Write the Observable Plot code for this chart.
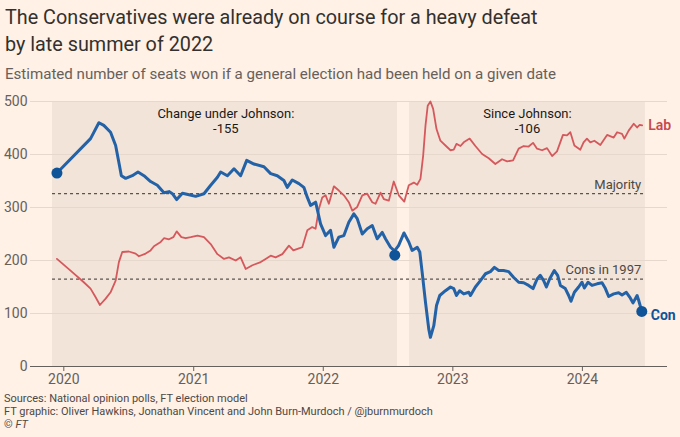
<!DOCTYPE html>
<html><head><meta charset="utf-8">
<script src="https://cdn.jsdelivr.net/npm/d3@7"></script>
<script src="https://cdn.jsdelivr.net/npm/@observablehq/plot@0.6"></script>
<style>
html,body{margin:0;padding:0;background:#FFF1E5;}
body{width:680px;height:437px;position:relative;overflow:hidden;font-family:Roboto,"Noto Sans",sans-serif;}
#title{position:absolute;left:5px;top:4px;font-size:19.8px;line-height:27px;color:#33302e;}
#sub{position:absolute;left:5px;top:64px;font-size:15.1px;line-height:20px;color:#66605c;}
#chart{position:absolute;left:0;top:88px;}
#foot{position:absolute;left:4px;top:392px;font-size:11px;line-height:13px;color:#4d4845;}
</style></head><body>
<div id="title">The Conservatives were already on course for a heavy defeat<br>by late summer of 2022</div>
<div id="sub">Estimated number of seats won if a general election had been held on a given date</div>
<div id="chart"></div>
<div id="foot">Sources: National opinion polls, FT election model<br>FT graphic: Oliver Hawkins, Jonathan Vincent and John Burn-Murdoch / @jburnmurdoch<br>© <i>FT</i></div>
<script>
// decimal-year dates and seat estimates
const conT = [2019.947,2020.206,2020.270,2020.308,2020.360,2020.399,2020.424,2020.443,2020.476,2020.527,2020.571,2020.617,2020.668,2020.720,2020.771,2020.810,2020.836,2020.869,2020.913,2020.964,2021.015,2021.079,2021.131,2021.183,2021.208,2021.260,2021.311,2021.362,2021.409,2021.465,2021.542,2021.594,2021.645,2021.696,2021.722,2021.761,2021.812,2021.850,2021.877,2021.902,2021.941,2021.979,2022.018,2022.056,2022.082,2022.120,2022.159,2022.197,2022.236,2022.262,2022.301,2022.339,2022.378,2022.416,2022.455,2022.480,2022.519,2022.550,2022.581,2022.623,2022.660,2022.686,2022.725,2022.745,2022.763,2022.789,2022.814,2022.827,2022.853,2022.874,2022.899,2022.943,2022.982,2023.007,2023.028,2023.053,2023.084,2023.123,2023.136,2023.174,2023.213,2023.252,2023.290,2023.321,2023.354,2023.392,2023.431,2023.470,2023.508,2023.547,2023.585,2023.619,2023.650,2023.675,2023.701,2023.722,2023.747,2023.783,2023.809,2023.830,2023.868,2023.894,2023.912,2023.938,2023.971,2023.997,2024.015,2024.043,2024.074,2024.113,2024.151,2024.177,2024.202,2024.241,2024.279,2024.305,2024.338,2024.364,2024.390,2024.421,2024.433,2024.457];
const conV = [365,430,460,455,442,417,385,360,355,360,367,360,349,342,328,330,326,315,327,324,321,326,342,357,367,360,373,360,389,382,377,364,360,351,338,352,345,338,319,304,310,269,247,257,225,244,247,272,288,279,250,260,266,241,253,241,225,218,228,252,235,219,225,216,178,121,71,55,77,115,134,143,150,147,134,143,137,140,134,150,162,175,179,187,181,181,179,168,159,158,153,147,165,172,162,150,165,181,172,153,147,134,123,140,150,159,148,159,153,156,158,147,132,137,139,135,140,131,120,134,125,104];

const labT = [2019.947,2020.052,2020.154,2020.206,2020.244,2020.278,2020.322,2020.360,2020.399,2020.424,2020.450,2020.501,2020.553,2020.578,2020.630,2020.668,2020.694,2020.746,2020.771,2020.810,2020.843,2020.869,2020.905,2020.938,2020.977,2021.029,2021.079,2021.131,2021.183,2021.234,2021.272,2021.324,2021.362,2021.401,2021.453,2021.517,2021.555,2021.594,2021.632,2021.684,2021.735,2021.769,2021.812,2021.838,2021.877,2021.915,2021.941,2021.966,2021.992,2022.018,2022.043,2022.082,2022.120,2022.159,2022.197,2022.224,2022.262,2022.301,2022.339,2022.378,2022.403,2022.442,2022.467,2022.506,2022.544,2022.583,2022.625,2022.660,2022.699,2022.725,2022.750,2022.771,2022.789,2022.806,2022.827,2022.848,2022.874,2022.904,2022.943,2022.982,2023.007,2023.028,2023.059,2023.084,2023.130,2023.174,2023.226,2023.277,2023.328,2023.380,2023.419,2023.465,2023.508,2023.547,2023.585,2023.619,2023.650,2023.689,2023.727,2023.766,2023.804,2023.850,2023.881,2023.907,2023.938,2023.984,2024.009,2024.035,2024.061,2024.092,2024.138,2024.190,2024.241,2024.267,2024.305,2024.323,2024.356,2024.395,2024.421,2024.441,2024.460];
const labV = [203,181,159,147,131,116,128,140,162,197,216,217,213,208,213,219,227,235,242,240,244,255,244,242,244,247,244,231,212,203,206,200,206,184,191,197,203,209,206,212,228,219,223,225,257,263,260,297,319,323,307,340,332,323,310,294,301,323,326,310,307,328,316,313,349,323,311,342,347,343,354,398,455,492,500,486,448,426,417,408,409,420,416,423,430,416,401,393,382,391,387,389,411,416,415,422,411,408,412,397,406,437,436,442,417,409,423,430,423,426,418,437,432,442,439,430,445,458,451,456,455];

const dotT = [2019.947, 2022.552, 2024.457];
const dotV = [365, 210, 104];

const periodStart = [2019.913, 2022.666];
const periodEnd = [2022.573, 2024.485];
const periodNote = ["Change under Johnson:\n-155", "Since Johnson:\n-106"];
const periodNoteT = [2021.248, 2023.576];

const refV = [326, 165];
const refLabel = ["Majority", "Cons in 1997"];

const yTicks = [0, 100, 200, 300, 400, 500];
const yearTicks = [2020, 2021, 2022, 2023, 2024];
const xDomain = [2019.743, 2024.655];

function dy(t) {
  const y = Math.floor(t);
  const s = Date.UTC(y, 0, 1), e = Date.UTC(y + 1, 0, 1);
  return new Date(s + (t - y) * (e - s));
}

const con = conT.map((t, i) => ({date: dy(t), v: conV[i]}));
const lab = labT.map((t, i) => ({date: dy(t), v: labV[i]}));
const dots = dotT.map((t, i) => ({date: dy(t), v: dotV[i]}));
const periods = periodStart.map((s, i) => ({x1: dy(s), x2: dy(periodEnd[i]), note: periodNote[i], nx: dy(periodNoteT[i])}));
const refs = refV.map((v, i) => ({v, label: refLabel[i]}));

const RED = "#d5585d", BLUE = "#2462a8", DOTBLUE = "#0f5499", GREY = "#66605c";

const chart = Plot.plot({
  width: 680, height: 310,
  marginLeft: 30, marginRight: 13, marginTop: 13, marginBottom: 32,
  style: {background: "transparent", fontFamily: "Roboto, 'Noto Sans', sans-serif", color: GREY, overflow: "visible"},
  x: {type: "utc", domain: xDomain.map(dy)},
  y: {domain: [0, 500]},
  marks: [
    Plot.rect(periods, {x1: "x1", x2: "x2", y1: 0, y2: 500, fill: "#f2e4d8"}),
    Plot.ruleY(yTicks.slice(1), {stroke: "#e6d8cc", strokeWidth: 1}),
    Plot.ruleY(refs, {y: "v", x1: periods[0].x1, x2: periods[1].x2, stroke: "#5a5450", strokeWidth: 1.3, strokeDasharray: "3,3"}),
    Plot.text(refs, {y: "v", x: dy(2024.453), text: "label", textAnchor: "end", dy: -9, fontSize: 13, fill: "#4d4845"}),
    Plot.text(periods, {x: "nx", y: 464, text: "note", textAnchor: "middle", lineHeight: 1.2, fontSize: 13, fill: "#1a1817"}),
    Plot.lineY(lab, {x: "date", y: "v", stroke: RED, strokeWidth: 1.8}),
    Plot.lineY(con, {x: "date", y: "v", stroke: BLUE, strokeWidth: 3}),
    Plot.dot(dots, {x: "date", y: "v", r: 5.5, fill: DOTBLUE}),
    Plot.text([lab[lab.length - 1]], {x: "date", y: "v", text: () => "Lab", textAnchor: "start", dx: 6, dy: 0, fontSize: 14, fontWeight: 600, fill: "#c9484f"}),
    Plot.text([dots[2]], {x: "date", y: "v", text: () => "Con", textAnchor: "start", dx: 9, dy: 4, fontSize: 14, fontWeight: 700, fill: DOTBLUE}),
    Plot.ruleY([0], {stroke: GREY, strokeWidth: 1.2}),
    Plot.axisY({ticks: yTicks, tickSize: 0, tickPadding: 3, fontSize: 14, label: null}),
    Plot.axisX({ticks: yearTicks.map(dy), tickFormat: d3.utcFormat("%Y"), tickSize: 5, tickPadding: 3, fontSize: 14, label: null})
  ]
});
document.getElementById("chart").appendChild(chart);
</script>
</body></html>
